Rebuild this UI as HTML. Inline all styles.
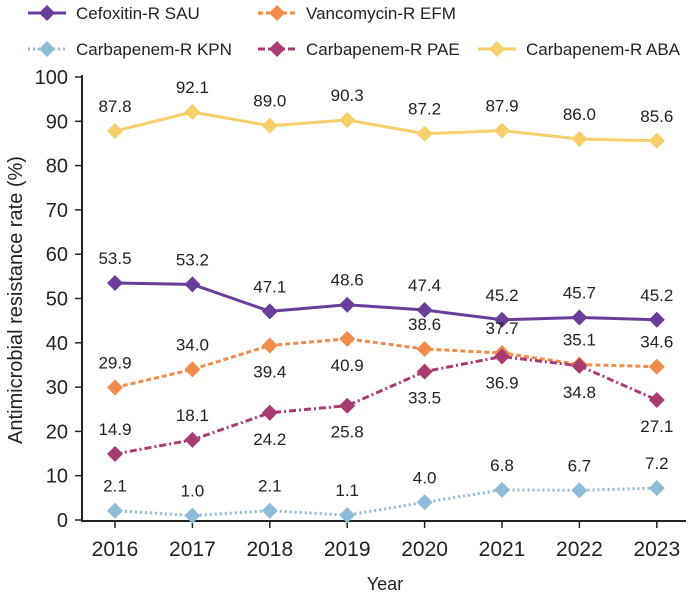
<!DOCTYPE html>
<html><head><meta charset="utf-8"><style>
body{margin:0;background:#fff;}
svg text{font-family:"Liberation Sans",sans-serif;fill:#222;}
</style></head><body>
<svg id="chart" width="693" height="595"></svg>
<script>
const years=["2016","2017","2018","2019","2020","2021","2022","2023"];
const seriesNames=["Cefoxitin-R SAU","Vancomycin-R EFM","Carbapenem-R KPN","Carbapenem-R PAE","Carbapenem-R ABA"];
const sau=[53.5,53.2,47.1,48.6,47.4,45.2,45.7,45.2];
const efm=[29.9,34.0,39.4,40.9,38.6,37.7,35.1,34.6];
const kpn=[2.1,1.0,2.1,1.1,4.0,6.8,6.7,7.2];
const pae=[14.9,18.1,24.2,25.8,33.5,36.9,34.8,27.1];
const aba=[87.8,92.1,89.0,90.3,87.2,87.9,86.0,85.6];
const yTicks=[0,10,20,30,40,50,60,70,80,90,100];
const efmBelow=[false,false,true,true,false,false,false,false];
const paeBelow=[false,false,true,true,true,true,true,true];

const NS="http://www.w3.org/2000/svg";
const svg=document.getElementById('chart');
function mk(t,a,p){const e=document.createElementNS(NS,t);for(const k in a)e.setAttribute(k,a[k]);(p||svg).appendChild(e);return e;}
const x=i=>115+i*77.4;
const y=v=>520-v*4.43;

let e=mk('line',{x1:82,y1:75,x2:82,y2:521,stroke:'#222','stroke-width':2});

e=mk('line',{x1:81,y1:521,x2:686,y2:521,stroke:'#222','stroke-width':2});

yTicks.forEach(v=>{
  mk('line',{x1:75,y1:y(v),x2:82,y2:y(v),stroke:'#222','stroke-width':1.5});
  const t=mk('text',{x:68,y:y(v)+7,'text-anchor':'end','font-size':20});t.textContent=v;
  
});
years.forEach((yr,i)=>{
  mk('line',{x1:x(i),y1:521,x2:x(i),y2:528,stroke:'#222','stroke-width':1.5});
  const t=mk('text',{x:x(i),y:556,'text-anchor':'middle','font-size':21});t.textContent=yr;
  
});
e=mk('text',{x:385,y:590,'text-anchor':'middle','font-size':18});e.textContent='Year';

e=mk('text',{x:0,y:0,'text-anchor':'middle','font-size':20,transform:'translate(22,300) rotate(-90)'});e.textContent='Antimicrobial resistance rate (%)';


const defs=[
 {d:sau,c:'#6a3d9a',dash:'',name:'sau',below:null},
 {d:efm,c:'#f28c4a',dash:'5,3',name:'efm',below:efmBelow},
 {d:kpn,c:'#8dbcd8',dash:'2,3',name:'kpn',below:null},
 {d:pae,c:'#a83c72',dash:'7,3,2,3',name:'pae',below:paeBelow},
 {d:aba,c:'#f7cf6a',dash:'',name:'aba',below:null}
];
function diamond(cx,cy,r,c,p){return mk('path',{d:`M${cx},${cy-r}L${cx+r},${cy}L${cx},${cy+r}L${cx-r},${cy}Z`,fill:c},p);}
defs.forEach(s=>{
  const g=mk('g',{});
  
  const l=mk('polyline',{points:s.d.map((v,i)=>x(i)+','+y(v)).join(' '),fill:'none',stroke:s.c,'stroke-width':3,'stroke-dasharray':s.dash},g);
  
  s.d.forEach((v,i)=>{
    const m=diamond(x(i),y(v),8,s.c,g);
    
    const b=s.below&&s.below[i];
    const t=mk('text',{x:x(i),y:y(v)+(b?32:-19),'text-anchor':'middle','font-size':17},g);
    t.textContent=v.toFixed(1);
    
  });
});
const leg=[[28,13,0],[258,13,1],[28,49,2],[258,49,3],[478,49,4]];
leg.forEach(([lx,ly,k])=>{
  const s=defs[k];
  const g=mk('g',{});
  
  mk('line',{x1:lx,y1:ly,x2:lx+38,y2:ly,stroke:s.c,'stroke-width':3,'stroke-dasharray':s.dash},g);
  diamond(lx+19,ly,8,s.c,g);
  const t=mk('text',{x:lx+48,y:ly+6,'font-size':17},g);t.textContent=seriesNames[k];
});
</script>
</body></html>
